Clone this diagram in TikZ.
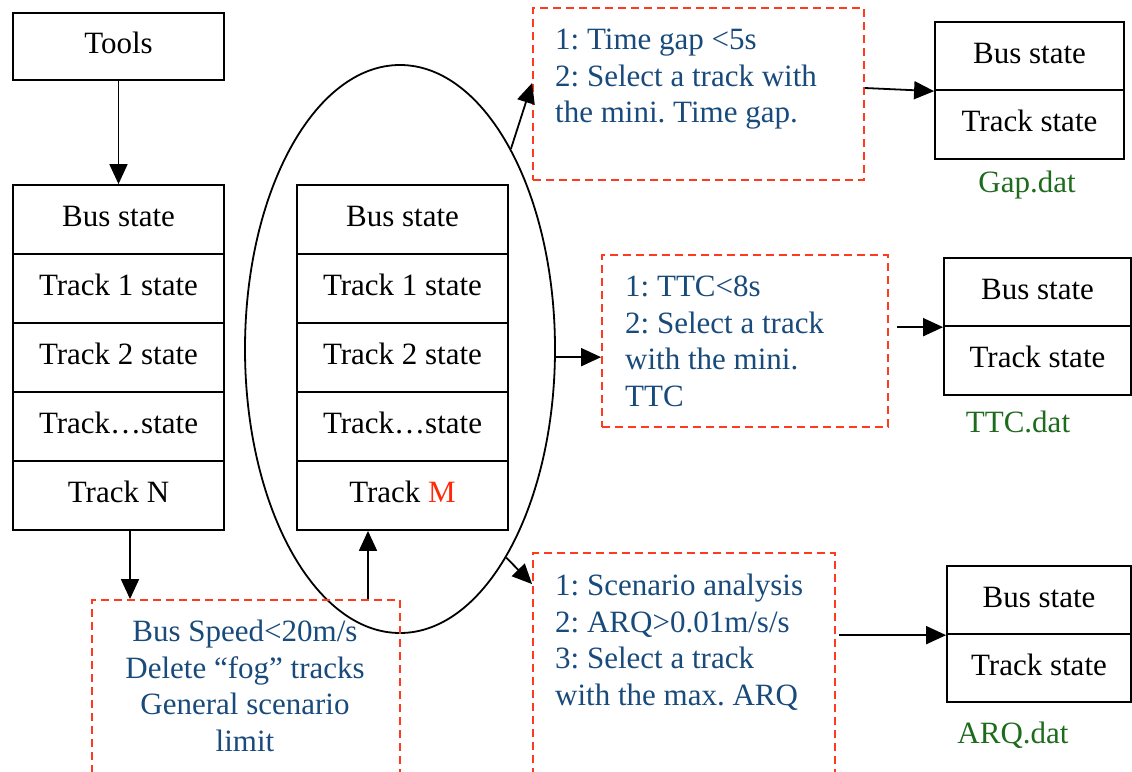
\documentclass[tikz,border=0pt]{standalone}
\usepackage{fontspec}
\setmainfont{Liberation Serif}
\usetikzlibrary{shapes.geometric,arrows.meta}
\definecolor{critred}{HTML}{FF3B1F}
\definecolor{critblue}{HTML}{184A7C}
\definecolor{filegreen}{HTML}{1E6B1E}
\definecolor{mred}{HTML}{FF2A0A}
\frenchspacing
\tikzset{
  every node/.style={font=\rmfamily\fontsize{31}{36.5}\selectfont},
  row/.style={draw, line width=1.8pt, minimum width=211pt, minimum height=69pt, inner sep=0pt,
    text height=21pt, text depth=7pt},
  outrow/.style={draw, line width=1.8pt, minimum height=68.5pt, inner sep=0pt,
    text height=21pt, text depth=7pt},
  crit/.style={draw=critred, line width=1.8pt, dash pattern=on 8pt off 5pt, inner sep=0pt},
  crittext/.style={text=critblue, inner sep=0pt},
  filelabel/.style={text=filegreen, inner sep=0pt, anchor=base},
  link/.style={line width=1.8pt, -{Triangle[length=20pt,width=18pt]}}
}
\begin{document}
\begin{tikzpicture}[x=1pt,y=-1pt]
\useasboundingbox (0,0) rectangle (1132,771);
\clip (0,0) rectangle (1132,771);

% grouping ellipse around the filtered stack
\node[draw, ellipse, line width=1.8pt, minimum width=310pt, minimum height=568pt, inner sep=0pt] (ell) at (400,349) {};

% input file and its record layout
\node[row, minimum height=67pt] (tools) at (118.5,46.5) {Tools};
\node[row] (l1) at (118.5,219.5) {Bus state};
\node[row] (l2) at (118.5,288.5) {Track 1 state};
\node[row] (l3) at (118.5,357.5) {Track 2 state};
\node[row] (l4) at (118.5,426.5) {Track\ldots state};
\node[row] (l5) at (118.5,495.5) {Track N};

% filtered record layout
\node[row] (m1) at (402.5,219.5) {Bus state};
\node[row] (m2) at (402.5,288.5) {Track 1 state};
\node[row] (m3) at (402.5,357.5) {Track 2 state};
\node[row] (m4) at (402.5,426.5) {Track\ldots state};
\node[row] (m5) at (402.5,495.5) {Track \textcolor{mred}{M}};

% selection criteria
\node[crit, minimum width=308pt, minimum height=220pt] (filt) at (246,710) {};
\node[crittext, align=center, anchor=north] (filttxt) at (245,620)
  {Bus Speed<20m/s\\Delete “fog” tracks\\General scenario\\limit};

\node[crit, minimum width=331pt, minimum height=172pt] (gapcrit) at (698.5,94) {};
\node[crittext, align=left, anchor=north west] (gaptxt) at (555,29)
  {1: Time gap <5s\\2: Select a track with\\the mini. Time gap.};

\node[crit, minimum width=286pt, minimum height=172pt] (ttccrit) at (745,341) {};
\node[crittext, align=left, anchor=north west] (ttctxt) at (625,276)
  {1: TTC<8s\\2: Select a track\\with the mini.\\TTC};

\node[crit, minimum width=302pt, minimum height=247pt] (arqcrit) at (684,676.5) {};
\node[crittext, align=left, anchor=north west] (arqtxt) at (555,574)
  {1: Scenario analysis\\2: ARQ>0.01m/s/s\\3: Select a track\\with the max. ARQ};

% output files
\node[outrow, minimum width=189pt] (gapbus) at (1029.5,56) {Bus state};
\node[outrow, minimum width=189pt] (gaptrk) at (1029.5,124.5) {Track state};
\node[filelabel] (gapfile) at (1027,192) {Gap.dat};

\node[outrow, minimum width=187pt] (ttcbus) at (1037.5,292) {Bus state};
\node[outrow, minimum width=187pt] (ttctrk) at (1037.5,360.5) {Track state};
\node[filelabel] (ttcfile) at (1018,432) {TTC.dat};

\node[outrow, minimum width=184pt] (arqbus) at (1039,600) {Bus state};
\node[outrow, minimum width=184pt] (arqtrk) at (1039,668) {Track state};
\node[filelabel] (arqfile) at (1013,743) {ARQ.dat};

% connectors
\draw[link] (tools) -- (l1);
\draw[link] ([xshift=11.5pt]l5.south) -- ([xshift=11.5pt]l5.south |- filt.north);
\draw[link] ([xshift=-34.5pt]m5.south |- filt.north) -- ([xshift=-34.5pt]m5.south);
\draw[link] (ell.61) -- ([yshift=11pt]gapcrit.west);
\draw[link] (ell.-3) -- (ell.-3 -| ttccrit.west);
\draw[link] (ell.-63) -- ([yshift=-32pt]arqcrit.north west);
\draw[link] ([yshift=6pt]gapcrit.east) -- (gapbus.south west);
\draw[link] ([xshift=8pt]ttccrit.east |- ttcbus.south west) -- (ttcbus.south west);
\draw[link] ([xshift=3pt]arqcrit.east |- arqbus.south west) -- (arqbus.south west);
\end{tikzpicture}
\end{document}
